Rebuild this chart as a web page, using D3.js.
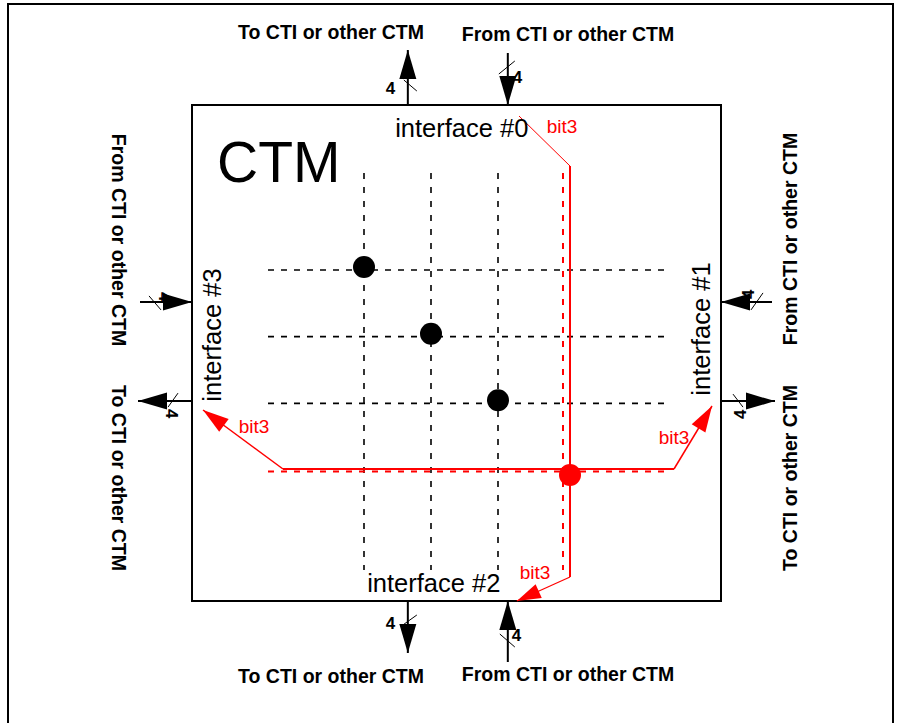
<!DOCTYPE html>
<html><head><meta charset="utf-8">
<script src="https://cdn.jsdelivr.net/npm/d3@7"></script>
<style>html,body{margin:0;padding:0;background:#fff}svg{display:block}</style>
</head><body>
<svg id="c" width="901" height="723"></svg>
<script>
// ---- data ----
const gridRows = [0, 1, 2, 3];
const gridCols = [0, 1, 2, 3];
const connections = [{row: 0, col: 0}, {row: 1, col: 1}, {row: 2, col: 2}];
const activeConnection = {row: 3, col: 3};
const interfaceNames = ["interface #0", "interface #1", "interface #2", "interface #3"];
const sides = ["top", "right", "bottom", "left"];
const portDirections = ["out", "in"];
const portLabels = {out: "To CTI or other CTM", in: "From CTI or other CTM"};
const busWidth = [4, 4, 4, 4, 4, 4, 4, 4];
const blockName = "CTM";
const signalName = "bit3";

// ---- scales ----
const svg = d3.select("#c");
const bx = d3.scaleLinear().domain([0, 1]).range([192, 721]);   // box horizontal
const by = d3.scaleLinear().domain([0, 1]).range([105, 601]);   // box vertical
const colX = d3.scaleLinear().domain([0, 3]).range([364, 565]);
const rowY = d3.scaleLinear().domain([0, 3]).range([270, 470]);
const RED = "#ff0000";
const FONT = "Liberation Sans, Arial, sans-serif";

// outer frame
svg.append("path").attr("d", `M8,730 V4 H893 V730`).attr("fill", "none").attr("stroke", "#000").attr("stroke-width", 2);
// box
svg.append("rect").attr("x", bx(0)).attr("y", by(0)).attr("width", bx(1) - bx(0)).attr("height", by(1) - by(0))
  .attr("fill", "none").attr("stroke", "#000").attr("stroke-width", 2);

svg.append("text").attr("x", 217).attr("y", 182).text(blockName)
  .attr("font-family", FONT).attr("font-size", 57);

// grid lines
const g = svg.append("g");
g.selectAll("line.h").data(gridRows.filter(r => r !== activeConnection.row)).join("line")
  .attr("x1", 268).attr("x2", 668).attr("y1", d => rowY(d)).attr("y2", d => rowY(d))
  .attr("stroke", "#000").attr("stroke-width", 1.6).attr("stroke-dasharray", "6,7");
g.selectAll("line.v").data(gridCols.filter(c => c !== activeConnection.col)).join("line")
  .attr("y1", 173).attr("y2", 570).attr("x1", d => colX(d)).attr("x2", d => colX(d))
  .attr("stroke", "#000").attr("stroke-width", 1.6).attr("stroke-dasharray", "6,8");
// red dashed line for active row/col
g.append("line").attr("x1", 268).attr("x2", 668).attr("y1", rowY(activeConnection.row) + 1.5).attr("y2", rowY(activeConnection.row) + 1.5)
  .attr("stroke", RED).attr("stroke-width", 2).attr("stroke-dasharray", "6,7");
g.append("line").attr("y1", 173).attr("y2", 570).attr("x1", colX(activeConnection.col) - 2).attr("x2", colX(activeConnection.col) - 2)
  .attr("stroke", RED).attr("stroke-width", 2).attr("stroke-dasharray", "6,8");

// helper: arrow with filled head
function arrow(x1, y1, x2, y2, len, w, color, sw) {
  svg.append("line").attr("x1", x1).attr("y1", y1).attr("x2", x2).attr("y2", y2).attr("stroke", color).attr("stroke-width", sw);
  const a = Math.atan2(y2 - y1, x2 - x1);
  const bxp = x2 - len * Math.cos(a), byp = y2 - len * Math.sin(a);
  const px = -Math.sin(a) * w / 2, py = Math.cos(a) * w / 2;
  svg.append("path").attr("d", `M${x2},${y2}L${bxp + px},${byp + py}L${bxp - px},${byp - py}Z`).attr("fill", color);
}
function line(x1, y1, x2, y2, color, sw) {
  svg.append("line").attr("x1", x1).attr("y1", y1).attr("x2", x2).attr("y2", y2).attr("stroke", color).attr("stroke-width", sw);
}
function text(x, y, s, opts) {
  return svg.append("text").attr("x", 0).attr("y", 0).text(s)
    .attr("font-family", FONT)
    .attr("font-size", opts.size).attr("font-weight", opts.bold ? "bold" : "normal")
    .attr("fill", opts.color || "#000").attr("text-anchor", opts.anchor || "start")
    .attr("transform", `translate(${x},${y}) rotate(${opts.rot || 0})`);
}

// red active path
const ax = colX(activeConnection.col) + 5, ay = rowY(activeConnection.row) - 1;
line(519, 116, ax, 166, RED, 1);
line(ax, 166, ax, 577, RED, 2);
arrow(ax, 577, bx(0.614), by(1), 24, 15, RED, 1.2);
line(283, ay, 674, ay, RED, 2);
arrow(283, ay, 203, 410, 26, 16, RED, 1.5);
arrow(674, ay, 712, 406, 26, 16, RED, 1.5);

// dots
svg.selectAll("circle.k").data(connections).join("circle")
  .attr("cx", d => colX(d.col)).attr("cy", d => rowY(d.row) - 3).attr("r", 11).attr("fill", "#000");
svg.append("circle").attr("cx", colX(activeConnection.col) + 5).attr("cy", rowY(activeConnection.row) + 5).attr("r", 11).attr("fill", RED);

// interface labels
const LF = 25.5;
text(bx(0.51), 137, interfaceNames[0], {size: LF, anchor: "middle"});
text(bx(0.457), 592, interfaceNames[2], {size: LF, anchor: "middle"});
text(221, 335, interfaceNames[3], {size: LF, anchor: "middle", rot: -90});
text(710, 329, interfaceNames[1], {size: LF, anchor: "middle", rot: -90});

// signal labels
const SF = 19;
text(562, 133, signalName, {size: SF, anchor: "middle", color: RED});
text(254, 433, signalName, {size: SF, anchor: "middle", color: RED});
text(674, 444, signalName, {size: SF, anchor: "middle", color: RED});
text(535, 579, signalName, {size: SF, anchor: "middle", color: RED});

// ports
const PX = [0.408, 0.597];  // positions of out/in ports along horizontal sides
const PY = [0.397, 0.597];  // positions of in/out ports along vertical sides
const HL = 29, HW = 17, BF = 19.5, NF = 17;
// top
let x = bx(PX[0]);
arrow(x, by(0), x, 50, HL, HW, "#000", 2);
line(x - 4, 80, x + 9, 91, "#000", 1);
text(x - 22, 94, busWidth[0], {size: NF, bold: true});
x = bx(PX[1]);
arrow(x, 53, x, by(0), HL, HW, "#000", 2);
line(x - 9, 74, x + 7, 61, "#000", 1);
text(x + 5, 83, busWidth[1], {size: NF, bold: true});
text(331, 39, portLabels.out, {size: BF, bold: true, anchor: "middle"});
text(568, 41, portLabels.in, {size: BF, bold: true, anchor: "middle"});
// bottom
x = bx(PX[0]);
arrow(x, by(1), x, 653, HL, HW, "#000", 2);
line(x - 5, 625, x + 9, 615, "#000", 1);
text(x - 22, 629, busWidth[2], {size: NF, bold: true});
x = bx(PX[1]);
arrow(x, 662, x, by(1), HL, HW, "#000", 2);
line(x - 8, 634, x + 7, 647, "#000", 1);
text(x + 4, 641, busWidth[3], {size: NF, bold: true});
text(331, 683, portLabels.out, {size: BF, bold: true, anchor: "middle"});
text(568, 681, portLabels.in, {size: BF, bold: true, anchor: "middle"});
// left
let y = by(PY[0]);
arrow(140, y, bx(0), y, HL, HW, "#000", 2);
line(149, y - 6, 161, y + 8, "#000", 1);
text(159, y - 10, busWidth[4], {size: NF, bold: true, rot: 90});
y = by(PY[1]);
arrow(bx(0), y, 138, y, HL, HW, "#000", 2);
line(178, y - 8, 168, y + 6, "#000", 1);
text(166, y + 8, busWidth[5], {size: NF, bold: true, rot: 90});
text(112, 240, portLabels.in, {size: BF, bold: true, anchor: "middle", rot: 90});
text(112, 478, portLabels.out, {size: BF, bold: true, anchor: "middle", rot: 90});
// right
y = by(PY[0]);
arrow(772, y, bx(1), y, HL, HW, "#000", 2);
line(751, y + 8, 763, y - 9, "#000", 1);
text(754, y - 3, busWidth[6], {size: NF, bold: true, rot: -90});
y = by(PY[1]);
arrow(bx(1), y, 775, y, HL, HW, "#000", 2);
line(733, y - 7, 743, y + 6, "#000", 1);
text(746, y + 18, busWidth[7], {size: NF, bold: true, rot: -90});
text(797, 239, portLabels.in, {size: BF, bold: true, anchor: "middle", rot: -90});
text(797, 478, portLabels.out, {size: BF, bold: true, anchor: "middle", rot: -90});
</script>
</body></html>
